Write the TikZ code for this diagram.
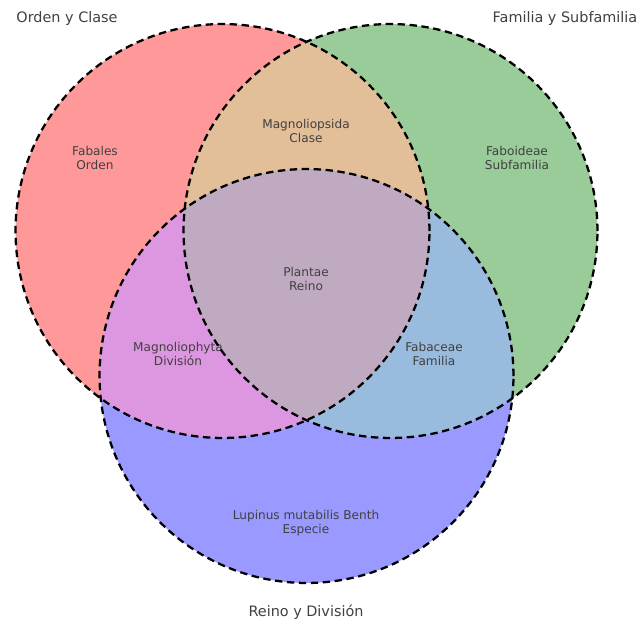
\documentclass[tikz,border=0pt]{standalone}
\usepackage{fontspec}
\setmainfont{DejaVu Sans}
\definecolor{soloR}{RGB}{255,153,153}
\definecolor{soloG}{RGB}{153,204,153}
\definecolor{soloB}{RGB}{153,153,255}
\definecolor{mixRG}{RGB}{226,190,153}
\definecolor{mixRB}{RGB}{221,150,224}
\definecolor{mixGB}{RGB}{153,187,222}
\definecolor{mixRGB}{RGB}{192,170,194}
\begin{document}
\begin{tikzpicture}[x=0.02cm,y=-0.02cm]
	\tikzstyle{ring}     = [draw=black, line width=1.3pt, dash pattern=on 4.2pt off 2.6pt]
	\tikzstyle{setlabel} = [font=\fontsize{8.2}{10}\selectfont, text=black!75, inner sep=0pt]
	\tikzstyle{region}   = [align=center, font=\fontsize{6.9}{7.9}\selectfont, text=black!75, inner sep=0pt]
	\def\rad{4.14cm}

	\useasboundingbox (0,0) rectangle (642,623);

	\coordinate (orden) at (222.5,231);
	\coordinate (familia) at (390.5,231);
	\coordinate (reino) at (306.5,376);

	% single sets
	\foreach \c/\col in {orden/soloR, familia/soloG, reino/soloB}
		\fill[\col] (\c) circle (\rad);

	% pairwise overlaps
	\foreach \a/\b/\col in {orden/familia/mixRG, orden/reino/mixRB, familia/reino/mixGB}
	{
		\begin{scope}
			\clip (\a) circle (\rad);
			\fill[\col] (\b) circle (\rad);
		\end{scope}
	}

	% centre
	\begin{scope}
		\clip (orden) circle (\rad);
		\clip (familia) circle (\rad);
		\fill[mixRGB] (reino) circle (\rad);
	\end{scope}

	\foreach \name/\x/\y/\txt in {fabales/95/158/Fabales\\Orden,
			magnoliopsida/306/131/Magnoliopsida\\Clase,
			faboideae/517/158/Faboideae\\Subfamilia,
			plantae/306/279/Plantae\\Reino,
			magnoliophyta/178/354/Magnoliophyta\\División,
			fabaceae/434/354/Fabaceae\\Familia,
			lupinus/306/523/Lupinus mutabilis Benth\\Especie}
		\node[region] (\name) at (\x, \y) {\txt};

	\node[setlabel] (ordenlabel) at (67, 19) {Orden y Clase};
	\node[setlabel] (familialabel) at (565, 19) {Familia y Subfamilia};
	\node[setlabel] (reinolabel) at (306, 612) {Reino y División};

	\foreach \c in {orden, familia, reino}
		\draw[ring] (\c) circle (\rad);
\end{tikzpicture}
\end{document}
